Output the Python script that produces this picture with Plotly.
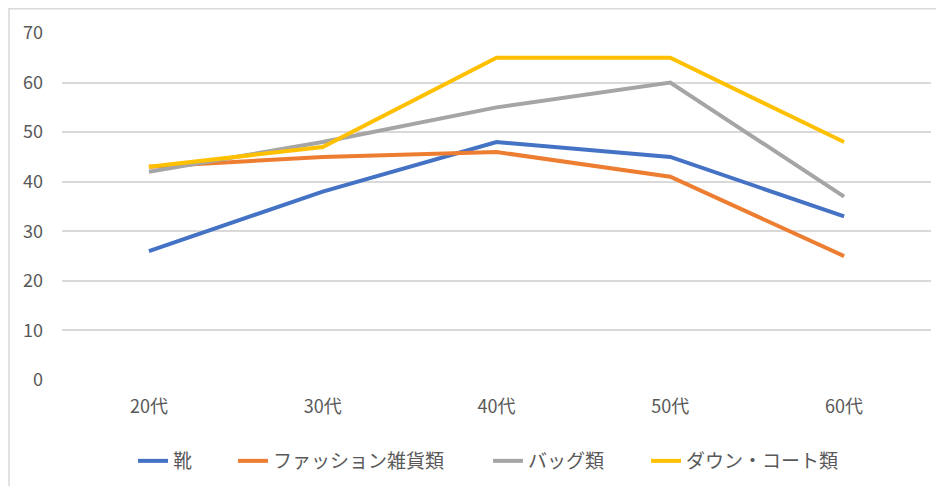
import plotly.graph_objects as go

categories = ["20代", "30代", "40代", "50代", "60代"]
shoes = [26, 38, 48, 45, 33]
fashion_goods = [43, 45, 46, 41, 25]
bags = [42, 48, 55, 60, 37]
down_coats = [43, 47, 65, 65, 48]

series_names = ["靴", "ファッション雑貨類", "バッグ類", "ダウン・コート類"]
series_values = [shoes, fashion_goods, bags, down_coats]
colors = ["#4472C4", "#ED7D31", "#A5A5A5", "#FFC000"]
legend_ids = ["legend", "legend2", "legend3", "legend4"]
legend_left_px = [133, 233, 488, 646]

fig = go.Figure()
for name, vals, c, lid in zip(series_names, series_values, colors, legend_ids):
    fig.add_trace(go.Scatter(x=categories, y=vals, name=name, mode="lines",
                             line=dict(color=c, width=4), legend=lid))

font = "Noto Sans CJK JP"
PL, PW, PT, PH = 62, 869, 33, 347  # plot area in page pixels


def legend_cfg(px):
    return dict(orientation="h", x=(px - PL) / PW, xanchor="left",
                y=(PT + PH - 461) / PH, yanchor="middle",
                font=dict(size=19, color="#595959"), bgcolor="rgba(0,0,0,0)")


layout_legends = {lid: legend_cfg(px) for lid, px in zip(legend_ids, legend_left_px)}

fig.update_layout(
    width=936, height=478,
    margin=dict(l=54, r=13, t=25, b=106, autoexpand=False),
    paper_bgcolor="white", plot_bgcolor="white",
    font=dict(family=font, size=18, color="#595959"),
    showlegend=True,
    xaxis=dict(type="category", range=[-0.5, 4.5], showgrid=False, zeroline=False,
               showline=False, ticks="", ticklabelstandoff=14,
               tickfont=dict(size=18, color="#595959")),
    yaxis=dict(range=[0, 70], dtick=10, showgrid=True, gridcolor="#D9D9D9", gridwidth=1.5,
               zeroline=False, showline=False, ticks="", ticklabelstandoff=18,
               tickfont=dict(size=18, color="#595959")),
    shapes=[dict(type="rect", xref="paper", yref="paper",
                 x0=(9 - PL) / PW, x1=1.2, y0=-0.5, y1=1 + (PT - 8.75) / PH,
                 line=dict(color="#D9D9D9", width=1.5), fillcolor="rgba(0,0,0,0)", layer="below")],
    **layout_legends,
)

fig.write_html("out.html")
